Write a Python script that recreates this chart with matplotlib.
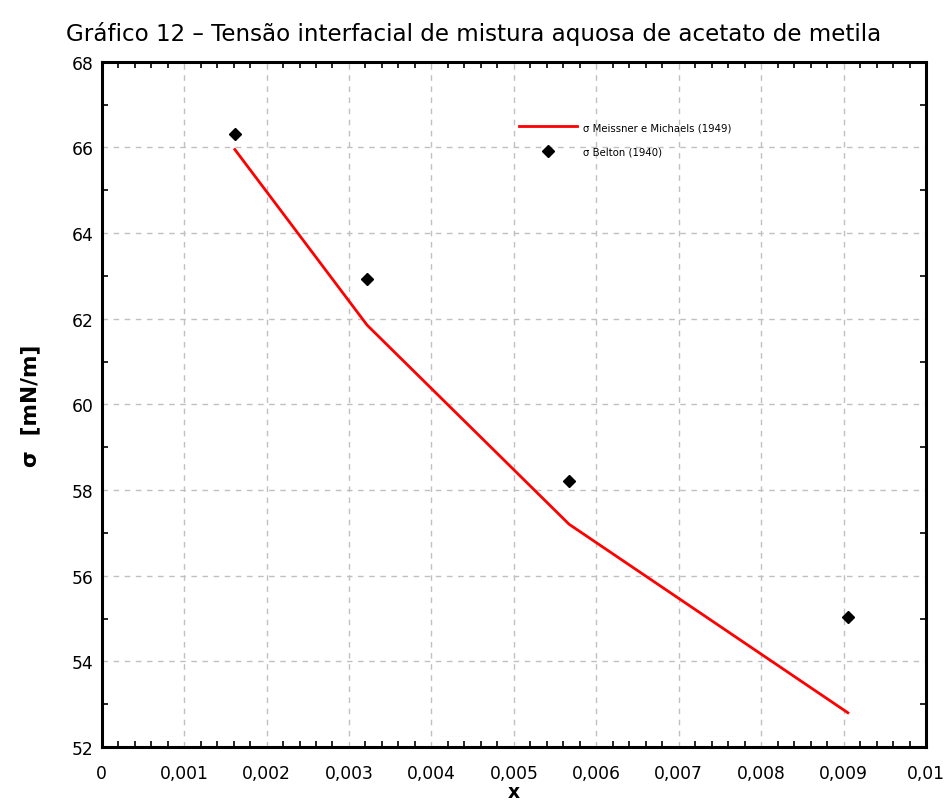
import matplotlib
matplotlib.use("Agg")
import matplotlib.pyplot as plt
from matplotlib.ticker import FixedLocator, MultipleLocator

plt.rcParams['font.family'] = ['DejaVu Sans']

# Mole fraction of methyl acetate
x_frac = [0.001616, 0.003220, 0.005670, 0.009050]
# Meissner & Michaels (1949) correlation [mN/m]
sigma_meissner = [65.95, 61.85, 57.20, 52.80]
# Belton (1940) measurements [mN/m]
sigma_belton = [66.32, 62.92, 58.21, 55.04]

x_ticks = [0, 0.001, 0.002, 0.003, 0.004, 0.005, 0.006, 0.007, 0.008, 0.009, 0.01]
x_tick_labels = ["0", "0,001", "0,002", "0,003", "0,004", "0,005",
                 "0,006", "0,007", "0,008", "0,009", "0,01"]
y_ticks = [52, 54, 56, 58, 60, 62, 64, 66, 68]
y_tick_labels = [str(v) for v in y_ticks]

fig = plt.figure(figsize=(9.47, 8.03), dpi=100)
ax = fig.add_axes([0.1073, 0.0685, 0.8707, 0.8534])

ax.plot(x_frac, sigma_meissner, color="#ff0000", lw=2.0,
        label="σ Meissner e Michaels (1949)", zorder=3)
ax.plot(x_frac, sigma_belton, ls="none", marker="D", ms=6.2,
        color="black", label="σ Belton (1940)", zorder=4)

ax.set_xlim(0, 0.01)
ax.set_ylim(52, 68)
ax.xaxis.set_major_locator(FixedLocator(x_ticks))
ax.yaxis.set_major_locator(FixedLocator(y_ticks))
ax.set_xticklabels(x_tick_labels)
ax.set_yticklabels(y_tick_labels)
ax.xaxis.set_minor_locator(MultipleLocator(0.0002))
ax.yaxis.set_minor_locator(MultipleLocator(1))

ax.tick_params(which="major", length=0, labelsize=12.3, pad=6)
ax.tick_params(axis="x", which="major", pad=12)
ax.tick_params(which="minor", direction="in", length=4, width=1.2,
               top=True, right=True, color="black")

for sp in ax.spines.values():
    sp.set_linewidth(2.2)
    sp.set_color("black")

ax.grid(True, which="major", color="#c0c0c0", lw=1.0, ls=(0, (4, 4)))
ax.set_axisbelow(True)

ax.set_xlabel("x", fontsize=13.5, fontweight="bold", labelpad=0)
ax.set_ylabel("σ  [mN/m]", fontsize=15.5, fontweight="bold", labelpad=22)
fig.suptitle("Gráfico 12 – Tensão interfacial de mistura aquosa de acetato de metila",
             fontsize=16.6, x=0.5, y=0.972)

ax.legend(loc="upper left", bbox_to_anchor=(0.506, 0.912), frameon=False,
          fontsize=7.3, handlelength=5.7, handletextpad=0.6,
          borderpad=0, borderaxespad=0, labelspacing=1.4)

fig.savefig("out.png", dpi=100)
